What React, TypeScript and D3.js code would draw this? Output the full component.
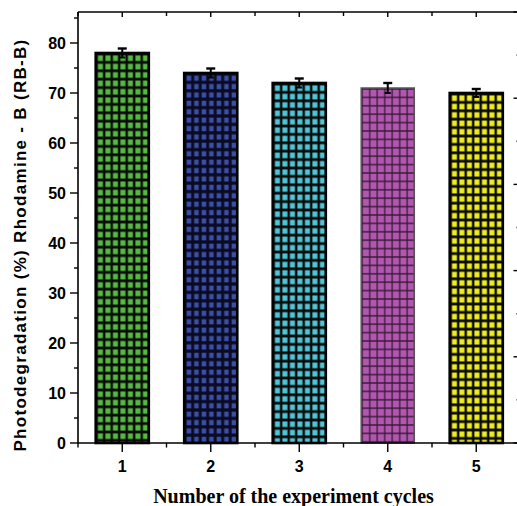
import React from "react";
import * as d3 from "d3";

const categories = [1, 2, 3, 4, 5];
const values = [78, 74, 72, 71, 70];
const errors = [0.9, 0.9, 0.9, 1.0, 0.8];
const fillColors = ["#55bb40", "#3b4fa6", "#4fc6d6", "#b058ae", "#eeee1e"];
const gridColors = ["#0a0a0a", "#0a0a20", "#0a0a0a", "#3a1838", "#0a0a0a"];
const outlineColors = ["#000", "#000", "#000", "#555", "#000"];
const squareW = [5, 4.5, 5, 6.2, 5];
const squareH = [5.6, 5.2, 5.6, 7, 5.6];
const yTicks = [0, 10, 20, 30, 40, 50, 60, 70, 80];
const yMinor = [5, 15, 25, 35, 45, 55, 65, 75, 85];
const rightTicks = [0, 10, 20, 30, 40, 50, 60, 70, 80, 90, 100];
const xLabel = "Number of the experiment cycles";
const yLabel = "Photodegradation (%) Rhodamine - B (RB-B)";

export default function App() {
  const W = 517, H = 506;
  const left = 78, right = 520.5, top = 12, bottom = 443;
  const x = d3.scaleLinear().domain([0.5, 5.5]).range([left, right]);
  const y = d3.scaleLinear().domain([0, 86.2]).range([bottom, top]);
  const yR = d3.scaleLinear().domain([0, 100]).range([bottom, top]);
  const step = x(2) - x(1);
  const bw = step * 0.6;
  const pw = 7.5, ph = 8.4;
  const halfPositions = d3.range(0.5, 6, 1);
  const font = "'Liberation Sans', Arial, sans-serif";

  return (
    <svg width={W} height={H} style={{ position: "absolute", left: 0, top: 0, background: "#fff" }}>
      <defs>
        {categories.map((c, i) => {
          const bx = x(c) - bw / 2;
          const sw = squareW[i], sh = squareH[i];
          return (
            <pattern
              key={c}
              id={`pat${i}`}
              patternUnits="userSpaceOnUse"
              x={bx + 1}
              y={y(values[i]) + 1}
              width={pw}
              height={ph}
            >
              <rect width={pw} height={ph} fill={gridColors[i]} />
              <rect x={(pw - sw) / 2} y={(ph - sh) / 2} width={sw} height={sh} fill={fillColors[i]} />
            </pattern>
          );
        })}
      </defs>

      {/* bars */}
      {categories.map((c, i) => {
        const bx = x(c) - bw / 2;
        return (
          <rect
            key={c}
            x={bx}
            y={y(values[i])}
            width={bw}
            height={bottom - y(values[i])}
            fill={`url(#pat${i})`}
            stroke={outlineColors[i]}
            strokeWidth={i === 3 ? 1.5 : 2.6}
          />
        );
      })}

      {/* error bars */}
      {categories.map((c, i) => {
        const cx = x(c);
        const hi = y(values[i] + errors[i]);
        const lo = y(values[i] - errors[i]);
        return (
          <g key={c} stroke="#000" strokeWidth={2}>
            <line x1={cx} x2={cx} y1={hi} y2={lo} />
            <line x1={cx - 4.5} x2={cx + 4.5} y1={hi} y2={hi} strokeWidth={2.4} />
            <line x1={cx - 3} x2={cx + 3} y1={lo} y2={lo} />
          </g>
        );
      })}

      {/* frame */}
      <g stroke="#000" strokeWidth={1.6} fill="none">
        <line x1={left} x2={left} y1={top} y2={bottom} />
        <line x1={left} x2={W + 5} y1={bottom} y2={bottom} />
        <line x1={left} x2={W + 5} y1={top} y2={top} />
      </g>

      {/* left ticks */}
      <g stroke="#000" strokeWidth={1.4}>
        {yTicks.map((t) => (
          <line key={t} x1={left - 8} x2={left} y1={y(t)} y2={y(t)} />
        ))}
        {yMinor.map((t) => (
          <line key={t} x1={left - 4} x2={left} y1={y(t)} y2={y(t)} />
        ))}
      </g>
      <g fontFamily={font} fontWeight="bold" fontSize={16} textAnchor="end">
        {yTicks.map((t) => (
          <text key={t} x={left - 12} y={y(t) + 5.5}>
            {t}
          </text>
        ))}
      </g>

      {/* bottom & top ticks */}
      <g stroke="#000" strokeWidth={1.4}>
        {categories.map((c) => (
          <g key={c}>
            <line x1={x(c)} x2={x(c)} y1={bottom} y2={bottom + 9} />
            <line x1={x(c)} x2={x(c)} y1={top} y2={top + 5} />
          </g>
        ))}
        {halfPositions.map((c) => (
          <g key={c}>
            <line x1={x(c)} x2={x(c)} y1={bottom} y2={bottom + 4.5} />
            <line x1={x(c)} x2={x(c)} y1={top} y2={top + 4} />
          </g>
        ))}
      </g>
      <g fontFamily={font} fontWeight="bold" fontSize={16} textAnchor="middle">
        {categories.map((c) => (
          <text key={c} x={x(c)} y={bottom + 29}>
            {c}
          </text>
        ))}
      </g>

      {/* right axis ticks (partially visible) */}
      <g stroke="#000" strokeWidth={1.4}>
        {rightTicks.map((t) => (
          <line key={t} x1={right - (t % 20 === 0 ? 7 : 4)} x2={right} y1={yR(t)} y2={yR(t)} />
        ))}
      </g>

      {/* axis titles */}
      <text
        x={293.5}
        y={503}
        fontFamily="'Liberation Serif', 'Times New Roman', serif"
        fontWeight="bold"
        fontSize={20}
        textAnchor="middle"
      >
        {xLabel}
      </text>
      <text
        transform={`translate(26, 245) rotate(-90)`}
        fontFamily={font}
        fontWeight="bold"
        fontSize={17}
        letterSpacing={1.3}
        textAnchor="middle"
      >
        {yLabel}
      </text>
    </svg>
  );
}
